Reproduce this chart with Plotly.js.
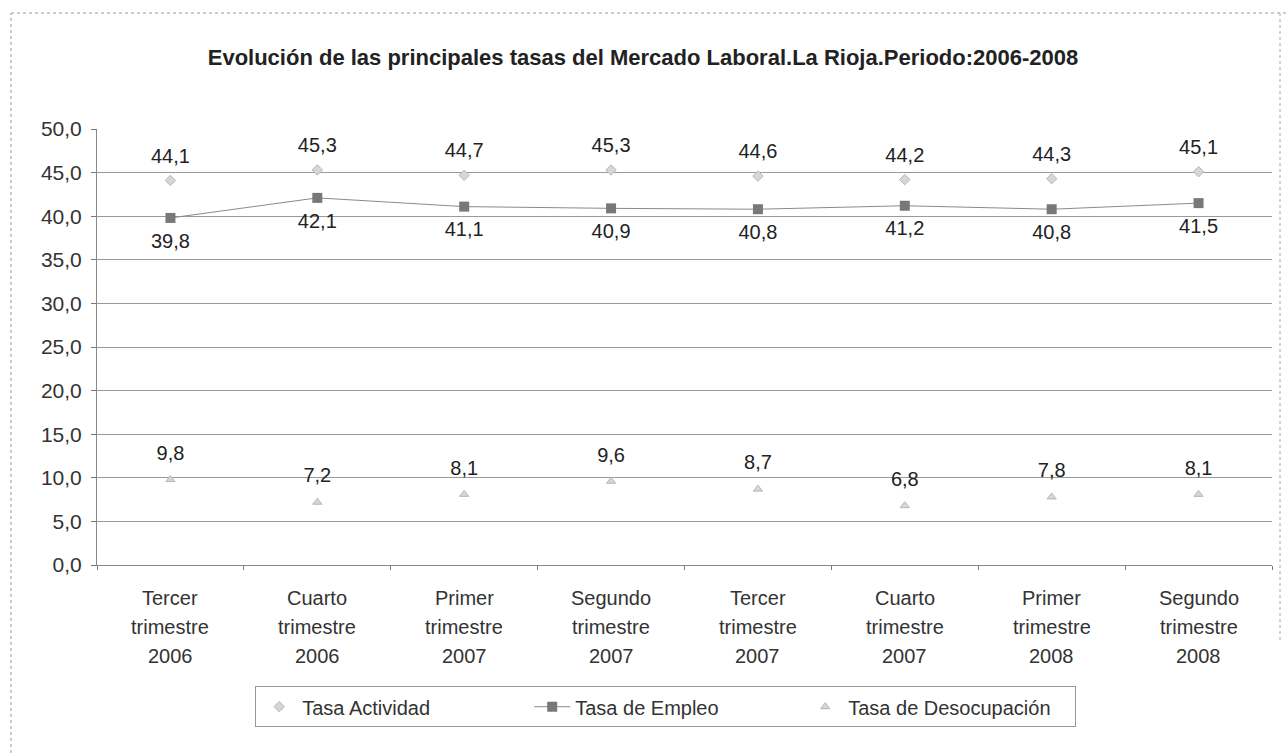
<!DOCTYPE html>
<html>
<head>
<meta charset="utf-8">
<script src="https://cdn.plot.ly/plotly-3.0.1.min.js"></script>
<style>
  html, body { margin: 0; padding: 0; background: #fff; }
  #chart { width: 1286px; height: 753px; }
</style>
</head>
<body>
<div id="chart"></div>
<script>
var categories = ["Tercer trimestre 2006", "Cuarto trimestre 2006", "Primer trimestre 2007", "Segundo trimestre 2007",
                  "Tercer trimestre 2007", "Cuarto trimestre 2007", "Primer trimestre 2008", "Segundo trimestre 2008"];
var categoryLines = [
  ["Tercer", "trimestre", "2006"],
  ["Cuarto", "trimestre", "2006"],
  ["Primer", "trimestre", "2007"],
  ["Segundo", "trimestre", "2007"],
  ["Tercer", "trimestre", "2007"],
  ["Cuarto", "trimestre", "2007"],
  ["Primer", "trimestre", "2008"],
  ["Segundo", "trimestre", "2008"]
];
var tasaActividad = [44.1, 45.3, 44.7, 45.3, 44.6, 44.2, 44.3, 45.1];
var tasaEmpleo = [39.8, 42.1, 41.1, 40.9, 40.8, 41.2, 40.8, 41.5];
var tasaDesocupacion = [9.8, 7.2, 8.1, 9.6, 8.7, 6.8, 7.8, 8.1];
var yTicks = [0, 5, 10, 15, 20, 25, 30, 35, 40, 45, 50];

var FONT = "Liberation Sans, Arial, sans-serif";
var labelFont = {family: FONT, size: 20, color: "#222"};

function labelTrace(y, pos, padSize) {
  return {
    x: categories, y: y, type: "scatter", mode: "markers+text",
    marker: {size: padSize, color: "rgba(0,0,0,0)"},
    texttemplate: "%{y:.1f}", textposition: pos, textfont: labelFont,
    showlegend: false, hoverinfo: "skip", cliponaxis: false
  };
}

var traces = [
  {
    x: categories, y: tasaActividad, name: "Tasa Actividad",
    type: "scatter", mode: "markers",
    marker: {symbol: "diamond", size: 8, color: "#d6d6d6", line: {color: "#b8b8b8", width: 1}},
    cliponaxis: false
  },
  {
    x: categories, y: tasaEmpleo, name: "Tasa de Empleo",
    type: "scatter", mode: "lines+markers",
    line: {color: "#8a8a8a", width: 1},
    marker: {symbol: "square", size: 10, color: "#787878"},
    cliponaxis: false
  },
  {
    x: categories, y: tasaDesocupacion, name: "Tasa de Desocupación",
    type: "scatter", mode: "markers",
    marker: {symbol: "triangle-up", size: 8, color: "#d6d6d6", line: {color: "#b8b8b8", width: 1}},
    cliponaxis: false
  },
  labelTrace(tasaActividad, "top center", 19),
  labelTrace(tasaEmpleo, "bottom center", 22),
  labelTrace(tasaDesocupacion, "top center", 22)
];

var annotations = [];
var shifts = [-33, -62, -91];
categories.forEach(function (c, i) {
  categoryLines[i].forEach(function (t, j) {
    annotations.push({
      x: c, y: 0, xref: "x", yref: "y", text: t, showarrow: false,
      yshift: shifts[j], yanchor: "middle", xanchor: "center",
      font: {family: FONT, size: 20, color: "#333"}
    });
  });
});

var layout = {
  width: 1286, height: 753,
  separators: ",.",
  paper_bgcolor: "#fff", plot_bgcolor: "#fff",
  margin: {l: 97, r: 14, t: 129, b: 188},
  font: {family: FONT, color: "#333"},
  title: {
    text: "<b>Evolución de las principales tasas del Mercado Laboral.La Rioja.Periodo:2006-2008</b>",
    font: {family: FONT, size: 22, color: "#222"},
    x: 0.5, xanchor: "center", y: 0.924, yanchor: "middle"
  },
  xaxis: {
    type: "category", showticklabels: false, showgrid: false,
    ticks: "outside", tickson: "boundaries", ticklen: 4, tickcolor: "#777",
    showline: true, linecolor: "#888", linewidth: 1,
    range: [-0.5, 7.5], fixedrange: true
  },
  yaxis: {
    range: [0, 50], tickvals: yTicks, tickformat: ".1f",
    tickfont: {family: FONT, size: 21, color: "#333"},
    ticks: "outside", ticklen: 5, tickcolor: "#777",
    showgrid: true, gridcolor: "#9a9a9a", gridwidth: 1,
    showline: true, linecolor: "#888", linewidth: 1,
    zeroline: false, ticklabelstandoff: 5
  },
  showlegend: true,
  legend: {
    orientation: "h", x: 0.484, xanchor: "center", y: -0.325, yanchor: "middle",
    bordercolor: "#999", borderwidth: 1, bgcolor: "#fff",
    font: {family: FONT, size: 20, color: "#333"},
    itemwidth: 36, entrywidth: 222, entrywidthmode: "pixels", tracegroupgap: 0
  },
  annotations: annotations,
  shapes: [
    {type: "line", xref: "paper", yref: "paper",
     x0: -86 / 1175, x1: -86 / 1175, y0: (565 - 753) / 436, y1: (565 - 13) / 436,
     line: {color: "#999", width: 1, dash: "dot"}},
    {type: "line", xref: "paper", yref: "paper",
     x0: -86 / 1175, x1: 1280 / 1175, y0: (565 - 13) / 436, y1: (565 - 13) / 436,
     line: {color: "#999", width: 1, dash: "dot"}},
    {type: "line", xref: "paper", yref: "paper",
     x0: 1183 / 1175, x1: 1183 / 1175, y0: (565 - 640) / 436, y1: (565 - 13) / 436,
     line: {color: "#aaa", width: 1, dash: "dot"}}
  ]
};

Plotly.newPlot("chart", traces, layout, {displayModeBar: false, staticPlot: true});
</script>
</body>
</html>
